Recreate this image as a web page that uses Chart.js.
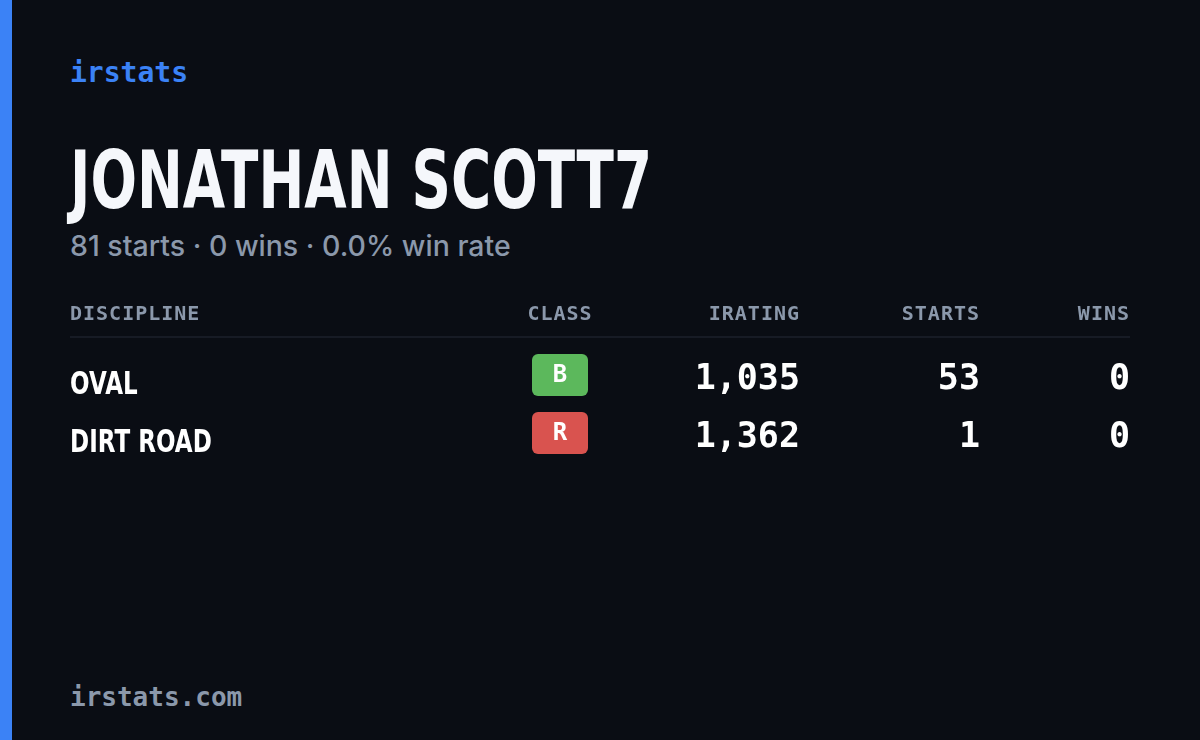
<!DOCTYPE html>
<html>
<head>
<meta charset="utf-8">
<script src="https://cdn.jsdelivr.net/npm/chart.js@4"></script>
<style>
  html, body { margin: 0; padding: 0; }
  body { width: 1200px; height: 740px; background: #0a0d14; position: relative; overflow: hidden; }
  .bar { position: absolute; left: 0; top: 0; width: 12px; height: 740px; background: #3b82f6; }
  .brand { position: absolute; left: 70px; top: 56px; font: bold 28px "DejaVu Sans Mono", monospace; color: #3b82f6; }
  .name { position: absolute; left: 70px; top: 134px; font: bold 80px "DejaVu Sans", sans-serif; color: #f5f7fb; transform: scaleX(0.685); transform-origin: 0 0; white-space: nowrap; }
  .sub { position: absolute; left: 70px; top: 228px; font: 500 28.5px Inter, sans-serif; color: #8b98ab; }
  .foot { position: absolute; left: 70px; top: 682px; font: bold 26px "DejaVu Sans Mono", monospace; color: #8b98ab; }
  #table { position: absolute; left: 0; top: 290px; }
</style>
</head>
<body>
<div class="bar"></div>
<div class="brand">irstats</div>
<div class="name">JONATHAN SCOTT7</div>
<div class="sub">81 starts · 0 wins · 0.0% win rate</div>
<canvas id="table" width="1200" height="190"></canvas>
<div class="foot">irstats.com</div>
<script>
const columns = ["DISCIPLINE", "CLASS", "IRATING", "STARTS", "WINS"]
const disciplines = ["OVAL", "DIRT ROAD"]
const classes = ["B", "R"]
const iratings = [1035, 1362]
const starts = [53, 1]
const wins = [0, 0]

const classColors = { B: "#5cb85c", R: "#d9534f" }
// column anchors (x px) and alignment
const colX = [70, 560, 800, 980, 1130]
const colAlign = ["left", "center", "right", "right", "right"]
const headerY = 23
const rowY = [88, 146]

const tablePlugin = {
  id: "table",
  afterDraw(chart) {
    const { ctx, scales: { x, y } } = chart
    ctx.save()
    // header
    ctx.font = "bold 20px 'DejaVu Sans Mono', monospace"
    ctx.fillStyle = "#8b98ab"
    ctx.textBaseline = "middle"
    ctx.letterSpacing = "1px"
    columns.forEach((c, i) => {
      ctx.textAlign = colAlign[i]
      ctx.fillText(c, x.getPixelForValue(colX[i]), y.getPixelForValue(headerY) + 2)
    })
    ctx.letterSpacing = "0px"
    // divider
    ctx.strokeStyle = "#1c212b"
    ctx.lineWidth = 1.5
    ctx.beginPath()
    ctx.moveTo(x.getPixelForValue(70), y.getPixelForValue(47))
    ctx.lineTo(x.getPixelForValue(1130), y.getPixelForValue(47))
    ctx.stroke()
    // rows
    disciplines.forEach((d, r) => {
      const py = y.getPixelForValue(rowY[r])
      ctx.fillStyle = "#ffffff"
      ctx.textAlign = "left"
      ctx.font = "bold 32px 'DejaVu Sans', sans-serif"
      ctx.save()
      ctx.translate(x.getPixelForValue(colX[0]), py + 8)
      ctx.scale(0.72, 1)
      ctx.fillText(d, 0, 0)
      ctx.restore()
      // class badge
      const bx = x.getPixelForValue(colX[1])
      ctx.fillStyle = classColors[classes[r]]
      ctx.beginPath()
      ctx.roundRect(bx - 28, py - 24, 56, 42, 6)
      ctx.fill()
      ctx.fillStyle = "#ffffff"
      ctx.textAlign = "center"
      ctx.font = "bold 24px 'DejaVu Sans Mono', monospace"
      ctx.fillText(classes[r], bx, py - 2)
      // numbers
      ctx.font = "bold 35px 'DejaVu Sans Mono', monospace"
      ctx.textAlign = "right"
      const vals = [iratings[r].toLocaleString("en-US"), String(starts[r]), String(wins[r])]
      vals.forEach((v, i) => ctx.fillText(v, x.getPixelForValue(colX[i + 2]), py + 2))
    })
    ctx.restore()
  }
}

new Chart(document.getElementById("table"), {
  type: "scatter",
  data: { datasets: [{ data: [] }] },
  options: {
    responsive: false,
    animation: false,
    layout: { padding: 0 },
    plugins: { legend: { display: false }, tooltip: { enabled: false } },
    scales: {
      x: { type: "linear", min: 0, max: 1200, display: false },
      y: { type: "linear", min: 0, max: 190, reverse: true, display: false }
    }
  },
  plugins: [tablePlugin]
})
</script>
</body>
</html>
